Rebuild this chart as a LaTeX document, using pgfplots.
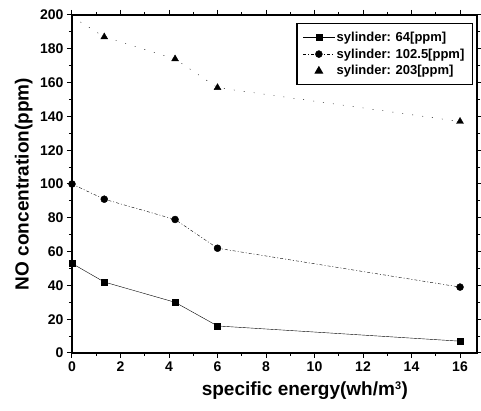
\documentclass[border=0pt]{standalone}
\usepackage{pgfplots}
\pgfplotsset{compat=1.18}
\usepackage{fontspec}
\setmainfont{Liberation Sans}
\begin{document}
\begin{tikzpicture}
\begin{axis}[
  scale only axis,
  width=405pt, height=338pt,
  xmin=0, xmax=16.7, ymin=0, ymax=200,
  xtick={0,2,...,16}, ytick={0,20,...,200},
  minor x tick num=1, minor y tick num=1,
  tick align=outside,
  major tick length=5pt, minor tick length=3pt,
  axis line style={line width=1.3pt},
  every tick/.style={black, line width=1pt},
  /pgf/number format/assume math mode=true,
  tick label style={font=\fontsize{14}{16}\selectfont\bfseries},
  xlabel={specific energy(wh/m\textsuperscript{\fontsize{11}{12}\selectfont 3})},
  ylabel={NO concentration(ppm)},
  label style={font=\fontsize{19}{22}\selectfont\bfseries},
  xlabel style={at={(axis description cs:0.575,0)}, anchor=north, yshift=-25pt},
  ylabel style={at={(axis description cs:0,0.5)}, anchor=south, yshift=36pt},
  legend style={at={(axis description cs:0.99,0.976)}, anchor=north east,
    draw=black, line width=1.2pt, font=\fontsize{13}{15}\selectfont\bfseries,
    row sep=2pt, inner xsep=6pt, inner ysep=6pt},
  legend image code/.code={%
    \draw[mark repeat=2, mark phase=2, #1]
      plot coordinates {(0cm,0cm) (0.55cm,0cm) (1.1cm,0cm)};},
  legend cell align=left,
  clip=false,
]
\addplot[black, thin, mark=square*, mark size=3pt, mark options={solid}]
  coordinates {(0,53)(1.33,42)(4.25,30)(6,16)(16,7)};
\addlegendentry{sylinder: 64[ppm]}
\addplot[black, thin, dash pattern=on 3pt off 2pt on 1pt off 2pt, mark=*, mark size=3.5pt, mark options={solid}]
  coordinates {(0,100)(1.33,91)(4.25,79)(6,62)(16,39)};
\addlegendentry{sylinder: 102.5[ppm]}
\addplot[black, thin, dash pattern=on 1pt off 9pt, forget plot]
  coordinates {(0,199)(1.33,187)(4.25,174)(6,157)(16,137)};
\addplot[black, only marks, mark=triangle*, mark size=4pt]
  coordinates {(1.33,187)(4.25,174)(6,157)(16,137)};
\addlegendentry{sylinder: 203[ppm]}
\end{axis}
\pgfresetboundingbox
\path[use as bounding box] (-72pt,-58pt) rectangle (409pt,353pt);
\end{tikzpicture}
\end{document}
